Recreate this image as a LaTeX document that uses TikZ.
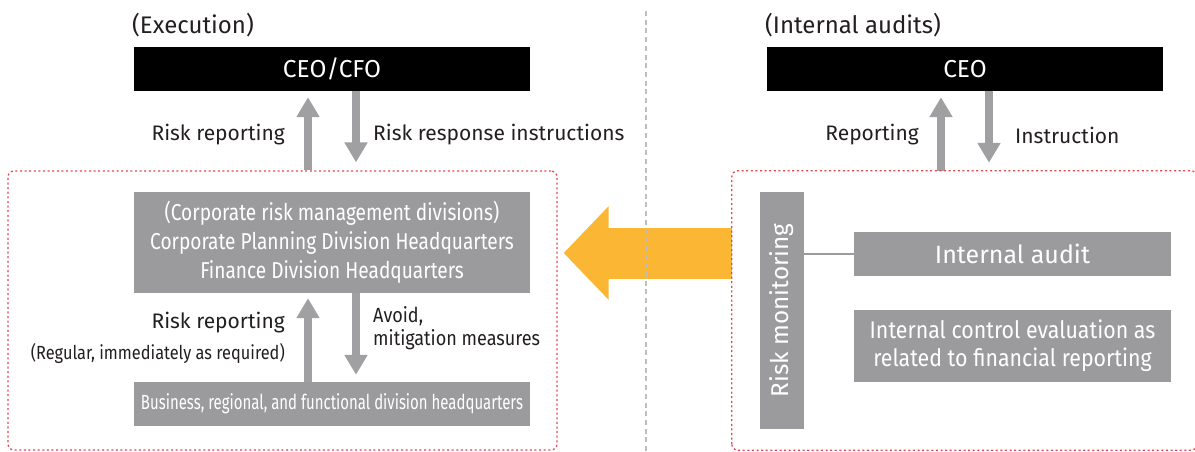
\documentclass[tikz,border=0pt]{standalone}
\usepackage{fontspec}
\setmainfont{Fira Sans}
\newfontfamily\fA{Fira Sans}
\newfontfamily\fC[FakeStretch=0.83]{Fira Sans}
\newfontfamily\fD[FakeStretch=0.73]{Fira Sans}
\newfontfamily\fE[FakeStretch=0.86]{Fira Sans}
\newfontfamily\fF[FakeStretch=0.89]{Fira Sans}
\newfontfamily\fG[FakeStretch=0.88]{Fira Sans}
\usetikzlibrary{arrows.meta,backgrounds}
\definecolor{boxgray}{HTML}{9B9B9E}
\definecolor{arrgray}{HTML}{A0A0A3}
\definecolor{dotred}{HTML}{E2474F}
\definecolor{orng}{HTML}{FBB734}
\definecolor{dashg}{HTML}{BDBDBD}
\definecolor{txt}{HTML}{231F20}
\tikzset{
  titletext/.style={font=\fA\fontsize{24}{27}\selectfont, text=txt, inner sep=0pt},
  blackbox/.style={fill=black, text=white, inner sep=0pt, font=\fA\fontsize{24.5}{27}\selectfont},
  graybox/.style={fill=boxgray, text=white, inner sep=0pt},
  lbl/.style={font=\fA\fontsize{21}{24}\selectfont, text=txt, inner sep=0pt},
  dotbox/.style={draw=dotred, line width=1.3pt, dash pattern=on 2pt off 2.6pt, rounded corners=6pt, inner sep=0pt},
  garrow/.style={draw=arrgray, line width=7.5pt, -{Triangle[width=22pt,length=20pt]}},
}
\begin{document}
\begin{tikzpicture}[x=1pt,y=-1pt]
\useasboundingbox (0,0) rectangle (1195,451);
% divider
\coordinate (dtop) at (646,11);
\coordinate (dbot) at (646,451);
\draw[dashg, line width=1.5pt, dash pattern=on 5pt off 3.7pt] (dtop) -- (dbot);

% ---------- left ----------
\node[titletext, anchor=west] (t1) at (132,25) {(Execution)};
\node[blackbox, minimum width=396pt, minimum height=44pt] (ceo1) at (332,69) {CEO/CFO};
\node[dotbox, minimum width=549pt, minimum height=279pt] (lbox) at (282.5,310.5) {};
\node[graybox, minimum width=396pt, minimum height=101pt, align=center,
      font=\fC\fontsize{23}{29}\selectfont] (cr) at (332,242.5)
      {(Corporate risk management divisions)\\Corporate Planning Division Headquarters\\Finance Division Headquarters};
\node[graybox, minimum width=396pt, minimum height=44pt,
      font=\fD\fontsize{20.5}{24}\selectfont] (bus) at (332,404)
      {Business, regional, and functional division headquarters};

\coordinate (xa) at (308,0);
\coordinate (xb) at (356,0);
\draw[garrow, shorten >=6pt] (lbox.north -| xa) -- (ceo1.south -| xa);
\draw[garrow, shorten >=8pt] (ceo1.south -| xb) -- (lbox.north -| xb);
\draw[garrow, shorten >=5pt] (bus.north -| xa) -- (cr.south -| xa);
\draw[garrow, shorten >=7pt] (cr.south -| xb) -- (bus.north -| xb);

\node[lbl, anchor=east] (l1) at (285,135) {Risk reporting};
\node[lbl, anchor=west] (l2) at (373,135) {Risk response instructions};
\node[lbl, anchor=east] (l3) at (285,323) {Risk reporting};
\node[lbl, anchor=east, font=\fE\fontsize{19}{22}\selectfont] (l4) at (285,353) {(Regular, immediately as required)};
\node[lbl, anchor=west, align=left, font=\fG\fontsize{20.5}{23}\selectfont] (l5) at (373,328.5) {Avoid,\\mitigation measures};

% ---------- right ----------
\node[titletext, anchor=west] (t2) at (765,25) {(Internal audits)};
\node[blackbox, minimum width=396pt, minimum height=44pt] (ceo2) at (965,69) {CEO};
\node[inner sep=0pt, minimum width=465pt, minimum height=279pt] (rbox) at (964.5,310.5) {};
\node[graybox, minimum width=237pt, minimum height=44pt, rotate=90,
      font=\fA\fontsize{24.3}{27}\selectfont] (rm) at (782,310.5) {Risk monitoring};
\node[graybox, minimum width=317pt, minimum height=44pt,
      font=\fA\fontsize{25}{28}\selectfont] (ia) at (1012.5,254) {Internal audit};
\node[graybox, minimum width=317pt, minimum height=72pt, align=center,
      font=\fF\fontsize{24}{28}\selectfont] (ic) at (1012.5,346)
      {Internal control evaluation as\\related to financial reporting};
\draw[boxgray, line width=2pt] (rm.south |- ia.west) -- (ia.west);

\coordinate (xc) at (941,0);
\coordinate (xd) at (989,0);
\draw[garrow, shorten >=6pt] (rbox.north -| xc) -- (ceo2.south -| xc);
\draw[garrow, shorten >=8pt] (ceo2.south -| xd) -- (rbox.north -| xd);
\node[lbl, anchor=east] (l6) at (919,135) {Reporting};
\node[lbl, anchor=west] (l7) at (1015,135) {Instruction};

% orange arrow
\coordinate (ya) at (0,253);
\begin{scope}[on background layer]
\draw[orng, line width=51pt, -{Triangle[width=91pt,length=45pt]}, shorten >=6pt]
  (rbox.west |- ya) -- (lbox.east |- ya);
\end{scope}
\draw[dotbox] (rbox.south west) rectangle (rbox.north east);
\end{tikzpicture}
\end{document}
